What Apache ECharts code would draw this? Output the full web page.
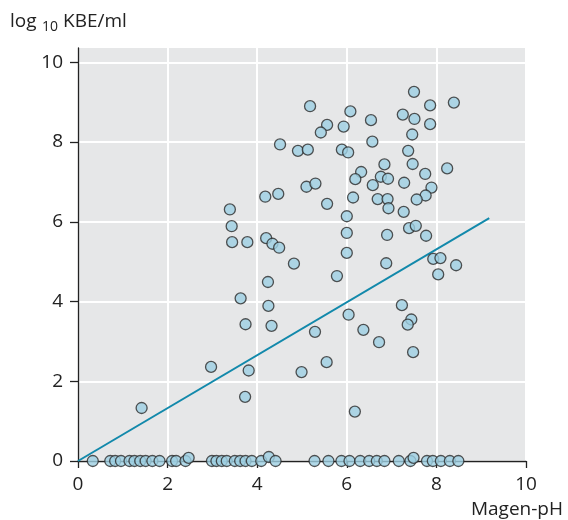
<!DOCTYPE html>
<html>
<head>
<meta charset="utf-8">
<script src="https://cdn.jsdelivr.net/npm/echarts@6.0.0/dist/echarts.min.js"></script>
<style>
  html, body { margin: 0; padding: 0; background: #fff; }
  #chart { width: 568px; height: 520px; }
</style>
</head>
<body>
<div id="chart"></div>
<script>
// Magen-pH vs. log10 KBE/ml
const xTicks = [0, 2, 4, 6, 8, 10];
const yTicks = [0, 2, 4, 6, 8, 10];

// samples with growth
const growthPh = [
  5.18, 6.08, 6.54, 5.56, 5.93, 5.42, 6.57, 4.51, 4.91, 5.13, 5.89, 6.03, 6.32, 6.19, 5.10, 5.30, 6.58,
  4.18, 4.47, 5.56, 6.14, 6.69, 3.39, 3.43, 3.44, 3.78, 4.20, 4.34, 4.49, 6.00, 6.00, 6.00, 4.82,
  7.50, 7.86, 8.39, 7.25, 7.51, 7.86, 7.46, 7.37, 6.84, 7.47, 7.75, 8.24, 6.76, 6.92, 7.28, 7.89,
  7.76, 7.56, 6.91, 6.93, 7.27, 7.39, 7.54, 6.90, 7.77, 6.88, 7.93, 8.09, 8.44,
  5.78, 4.24, 3.63, 4.25, 3.74, 4.32, 6.04, 6.37, 6.72, 5.29, 2.97, 3.81, 4.99, 5.55, 3.73, 6.18,
  8.04, 7.23, 7.44, 7.36, 7.48, 1.42
];
const growthLog = [
  8.90, 8.77, 8.55, 8.43, 8.39, 8.24, 8.01, 7.94, 7.78, 7.81, 7.81, 7.74, 7.25, 7.07, 6.88, 6.96, 6.92,
  6.63, 6.70, 6.45, 6.61, 6.57, 6.31, 5.89, 5.49, 5.49, 5.59, 5.45, 5.35, 6.14, 5.72, 5.22, 4.95,
  9.26, 8.92, 8.99, 8.69, 8.58, 8.45, 8.19, 7.78, 7.44, 7.45, 7.20, 7.34, 7.13, 7.08, 6.98, 6.86,
  6.66, 6.56, 6.57, 6.34, 6.25, 5.84, 5.90, 5.67, 5.65, 4.96, 5.07, 5.09, 4.91,
  4.64, 4.49, 4.08, 3.89, 3.43, 3.39, 3.67, 3.29, 2.98, 3.24, 2.36, 2.27, 2.23, 2.48, 1.61, 1.24,
  4.68, 3.91, 3.55, 3.42, 2.73, 1.33
];

// sterile samples (on the x axis)
const sterilePh = [
  0.33, 0.72, 0.83, 0.96, 1.15, 1.26, 1.39, 1.51, 1.66, 1.82, 2.10, 2.19, 2.40, 2.47,
  2.99, 3.09, 3.21, 3.32, 3.50, 3.62, 3.74, 3.88, 4.09, 4.26, 4.41,
  5.28, 5.59, 5.88, 6.06, 6.30, 6.50, 6.67, 6.84, 7.16, 7.42, 7.49, 7.79, 7.92, 8.10, 8.30, 8.49
];
const sterileLog = [
  0, 0, 0, 0, 0, 0, 0, 0, 0, 0, 0, 0, 0, 0.08,
  0, 0, 0, 0, 0, 0, 0, 0, 0, 0.1, 0,
  0, 0, 0, 0, 0, 0, 0, 0, 0, 0, 0.08, 0, 0, 0, 0, 0
];

// regression line
const trendPh = [0, 9.18];
const trendLog = [0, 6.09];

const font = '"Open Sans", "Noto Sans", sans-serif';
const ink = '#222';
const pts = (xs, ys) => xs.map((x, i) => [x, ys[i]]);

const dotStyle = {
  color: '#9dd0e2',
  borderColor: '#2b2b2b',
  borderWidth: 1.3
};

const chart = echarts.init(document.getElementById('chart'), null, { renderer: 'canvas' });

chart.setOption({
  animation: false,
  backgroundColor: '#fff',
  grid: {
    left: 78, right: 42, top: 48, bottom: 59,
    show: true,
    backgroundColor: '#e6e7e8',
    borderWidth: 0
  },
  // axis titles, subscript done as a separate smaller text
  graphic: [
    { type: 'text', left: 10, top: 12, style: { text: 'log', fontFamily: font, fontSize: 19, fill: ink } },
    { type: 'text', left: 42, top: 20, style: { text: '10', fontFamily: font, fontSize: 14, fill: ink } },
    { type: 'text', left: 63, top: 12, style: { text: 'KBE/ml', fontFamily: font, fontSize: 19, fill: ink } },
    { type: 'text', right: 5, top: 500, style: { text: 'Magen-pH', fontFamily: font, fontSize: 19, fill: ink } }
  ],
  xAxis: {
    type: 'value',
    min: 0, max: 10, interval: 2,
    axisLine: { lineStyle: { color: ink, width: 1.3 } },
    axisTick: { show: true, length: 7, customValues: xTicks, lineStyle: { color: ink, width: 1.3 } },
    axisLabel: { fontFamily: font, fontSize: 19, color: ink, margin: 14, customValues: xTicks },
    splitLine: { show: true, lineStyle: { color: '#fff', width: 2 } }
  },
  yAxis: {
    type: 'value',
    min: 0, max: 10.36, interval: 2,
    axisLine: { show: true, lineStyle: { color: ink, width: 1.3 } },
    axisTick: { show: true, length: 8, customValues: yTicks, lineStyle: { color: ink, width: 1.3 } },
    axisLabel: { fontFamily: font, fontSize: 19, color: ink, margin: 15, customValues: yTicks },
    splitLine: { show: true, lineStyle: { color: '#fff', width: 2 } }
  },
  series: [{
    type: 'line',
    data: pts(trendPh, trendLog),
    symbol: 'none',
    lineStyle: { color: '#1289ab', width: 2 },
    z: 3
  }, {
    type: 'scatter',
    data: pts(growthPh, growthLog),
    symbolSize: 11,
    itemStyle: dotStyle,
    z: 4
  }, {
    type: 'scatter',
    data: pts(sterilePh, sterileLog),
    symbolSize: 11,
    clip: false,
    itemStyle: dotStyle,
    z: 4
  }]
});
</script>
</body>
</html>
